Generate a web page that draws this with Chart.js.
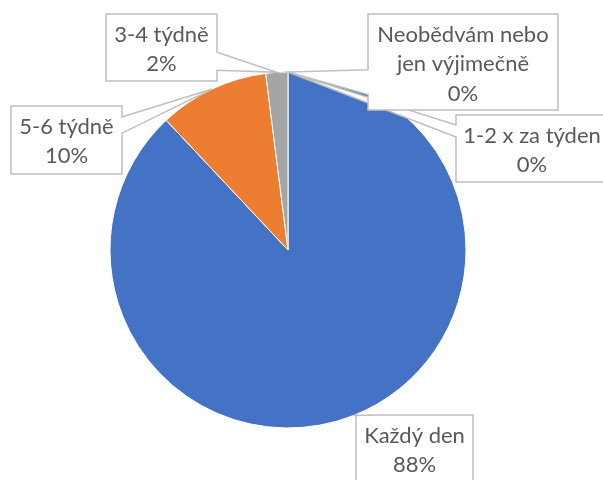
<!DOCTYPE html>
<html>
<head>
<meta charset="utf-8">
<script src="https://cdn.jsdelivr.net/npm/chart.js@4.4.1/dist/chart.umd.min.js"></script>
<style>
  html, body { margin: 0; padding: 0; background: #fff; }
</style>
</head>
<body>
<canvas id="lunchChart" width="603" height="480"></canvas>
<script>
const categories = ['Každý den', '5-6 týdně', '3-4 týdně', '1-2 x za týden', 'Neobědvám nebo jen výjimečně'];
const shares = [88, 10, 2, 0, 0];
const sliceColors = ['#4472C4', '#ED7D31', '#A5A5A5', '#FFC000', '#5B9BD5'];

// callout boxes: box rect, wedge side (0 top,1 right,2 bottom,3 left) and base fractions along it
const callouts = [
    { x: 356, y: 415, w: 117, h: 70, side: 0, a: 0.02, b: 0.18 },
    { x: 11, y: 106, w: 111, h: 68, side: 1, a: 0.16, b: 0.40 },
    { x: 106, y: 14, w: 111, h: 67, side: 1, a: 0.57, b: 0.84 },
    { x: 456, y: 115, w: 152, h: 67, side: 3, a: 0.67, b: 0.85 },
    { x: 368, y: 14, w: 190, h: 96, side: 3, a: 0.16, b: 0.42 }
];

const textFont = '22px Lato';
const textColor = '#595959';
const lineGap = 29.5;

function wrapWords(ctx, text, maxWidth) {
    const words = text.split(' ');
    const lines = [];
    let cur = '';
    words.forEach(function(w) {
        const test = cur ? cur + ' ' + w : w;
        if (cur && ctx.measureText(test).width > maxWidth) {
            lines.push(cur);
            cur = w;
        } else {
            cur = test;
        }
    });
    if (cur) lines.push(cur);
    return lines;
}

const calloutPlugin = {
    id: 'callouts',
    afterDatasetsDraw(chart) {
        const ctx = chart.ctx;
        const meta = chart.getDatasetMeta(0);
        const total = shares.reduce((s, v) => s + v, 0);
        ctx.save();
        ctx.font = textFont;
        meta.data.forEach(function(arc, i) {
            const p = arc.getProps(['x', 'y', 'startAngle', 'endAngle', 'outerRadius'], true);
            const mid = (p.startAngle + p.endAngle) / 2;
            const tipX = p.x + Math.cos(mid) * p.outerRadius;
            const tipY = p.y + Math.sin(mid) * p.outerRadius;
            const c = callouts[i];
            const corners = [[c.x, c.y], [c.x + c.w, c.y], [c.x + c.w, c.y + c.h], [c.x, c.y + c.h]];

            ctx.beginPath();
            ctx.moveTo(corners[0][0], corners[0][1]);
            for (let s = 0; s < 4; s++) {
                const from = corners[s];
                const to = corners[(s + 1) % 4];
                if (s === c.side) {
                    ctx.lineTo(from[0] + (to[0] - from[0]) * c.a, from[1] + (to[1] - from[1]) * c.a);
                    ctx.lineTo(tipX, tipY);
                    ctx.lineTo(from[0] + (to[0] - from[0]) * c.b, from[1] + (to[1] - from[1]) * c.b);
                }
                ctx.lineTo(to[0], to[1]);
            }
            ctx.closePath();
            ctx.fillStyle = '#ffffff';
            ctx.fill();
            ctx.strokeStyle = '#BFBFBF';
            ctx.lineWidth = 1.5;
            ctx.stroke();

            const pct = Math.round(shares[i] / total * 100) + '%';
            const lines = wrapWords(ctx, categories[i], c.w - 14).concat([pct]);
            ctx.fillStyle = textColor;
            ctx.textAlign = 'center';
            ctx.textBaseline = 'alphabetic';
            lines.forEach(function(line, k) {
                ctx.fillText(line, c.x + c.w / 2, c.y + 27.5 + k * lineGap);
            });
        });
        ctx.restore();
    }
};

const lunchChart = new Chart(document.getElementById('lunchChart').getContext('2d'), {
    type: 'pie',
    data: {
        labels: categories,
        datasets: [{
            data: shares,
            backgroundColor: sliceColors,
            borderColor: '#ffffff',
            borderWidth: 1,
            hoverOffset: 0
        }]
    },
    options: {
        responsive: false,
        animation: false,
        layout: {
            padding: { left: 109.5, right: 136.5, top: 71.5, bottom: 51.5 }
        },
        plugins: {
            legend: { display: false },
            tooltip: { enabled: false }
        }
    },
    plugins: [calloutPlugin]
});
</script>
</body>
</html>
